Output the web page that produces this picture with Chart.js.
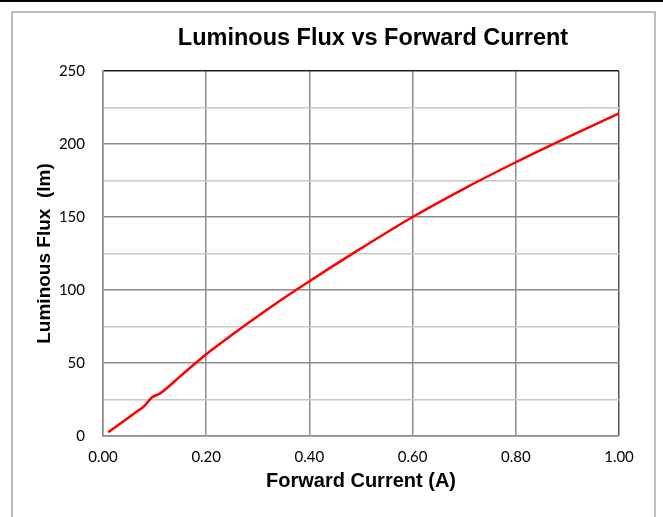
<!DOCTYPE html>
<html>
<head>
<meta charset="utf-8">
<script src="https://cdn.jsdelivr.net/npm/chart.js@4.4.1/dist/chart.umd.min.js"></script>
<style>
    html, body { margin: 0; padding: 0; background: #fff; }
    #wrap { width: 663px; height: 517px; position: relative; }
</style>
</head>
<body>
<div id="wrap"><canvas id="fluxChart"></canvas></div>
<script>
// values
const currentA = [0.01, 0.045, 0.065, 0.08, 0.095, 0.11, 0.15, 0.2, 0.25, 0.3, 0.35, 0.4, 0.5, 0.6, 0.7, 0.8, 0.9, 1.0]
const fluxLm = [2.5, 11.5, 16.6, 20.5, 26.5, 29, 41, 56, 69.3, 82, 94.3, 106, 128.5, 150, 169.5, 187.5, 204.5, 221]
const xTickLabels = [0, 0.2, 0.4, 0.6, 0.8, 1.0]
const yTickLabels = [0, 50, 100, 150, 200, 250]

const chartTitle = 'Luminous Flux vs Forward Current'

Chart.defaults.font.family = 'Lato'
Chart.defaults.color = '#000'

// outer frame + title, drawn behind the chart
const framePlugin = {
    id: 'frame',
    beforeDraw(chart) {
        const ctx = chart.ctx
        ctx.save()
        ctx.fillStyle = '#fff'
        ctx.fillRect(0, 0, chart.width, chart.height)
        ctx.strokeStyle = '#a6a6a6'
        ctx.lineWidth = 1.5
        ctx.beginPath()
        ctx.moveTo(12, chart.height + 5)
        ctx.lineTo(12, 12)
        ctx.lineTo(655, 12)
        ctx.lineTo(655, chart.height + 5)
        ctx.stroke()
        ctx.fillStyle = '#000'
        ctx.fillRect(0, 0, chart.width, 2)

        ctx.font = 'bold 23.5px "Liberation Sans"'
        ctx.textAlign = 'center'
        ctx.textBaseline = 'middle'
        ctx.fillText(chartTitle, 373, 39)
        ctx.restore()
    }
}

const points = currentA.map((x, i) => ({ x: x, y: fluxLm[i] }))

const fluxData = {
    datasets: [{
        label: 'Luminous Flux',
        data: points,
        borderColor: '#ff0000',
        borderWidth: 2.5,
        pointRadius: 0,
        cubicInterpolationMode: 'monotone',
        fill: false
    }]
}

const fluxConfig = {
    type: 'line',
    data: fluxData,
    plugins: [framePlugin],
    options: {
        responsive: true,
        maintainAspectRatio: false,
        animation: false,
        layout: {
            padding: { top: 71, right: 44, bottom: 0, left: 20 }
        },
        plugins: {
            legend: { display: false },
            title: { display: false },
            tooltip: { enabled: false }
        },
        scales: {
            x: {
                type: 'linear',
                min: 0,
                max: 1,
                afterFit(scale) { scale.height = 81 },
                ticks: {
                    stepSize: 0.2,
                    padding: 12,
                    maxRotation: 0,
                    font: { size: 15 },
                    color: '#000',
                    callback: (v) => {
                        const hit = xTickLabels.find(t => Math.abs(t - v) < 1e-6)
                        return hit === undefined ? '' : hit.toFixed(2)
                    }
                },
                grid: {
                    drawTicks: false,
                    lineWidth: 1.5,
                    color: (ctx) => (ctx.tick && Math.abs(ctx.tick.value - 1) < 1e-6) ? '#555' : '#8c8c8c'
                },
                border: { color: '#8c8c8c', width: 1.5 },
                title: {
                    display: true,
                    text: 'Forward Current (A)',
                    font: { family: 'Liberation Sans', size: 20, weight: 'bold' },
                    color: '#000',
                    padding: { top: 3, bottom: 24 }
                }
            },
            y: {
                min: 0,
                max: 250,
                afterFit(scale) { scale.width = 83 },
                ticks: {
                    stepSize: 25,
                    padding: 18,
                    font: { size: 15 },
                    color: '#000',
                    callback: (v) => yTickLabels.includes(v) ? v : ''
                },
                grid: {
                    drawTicks: false,
                    lineWidth: 1.5,
                    color: (ctx) => {
                        const v = ctx.tick ? ctx.tick.value : 0
                        if (v === 250) return '#222'
                        return v % 50 === 0 ? '#8c8c8c' : '#c8c8c8'
                    }
                },
                border: { color: '#8c8c8c', width: 1.5 },
                title: {
                    display: true,
                    text: 'Luminous Flux  (lm)',
                    font: { family: 'Liberation Sans', size: 19, weight: 'bold' },
                    color: '#000',
                    padding: { top: 13, bottom: 6 }
                }
            }
        }
    }
}

const fluxChart = new Chart(
    document.getElementById('fluxChart'),
    fluxConfig
)
</script>
</body>
</html>
